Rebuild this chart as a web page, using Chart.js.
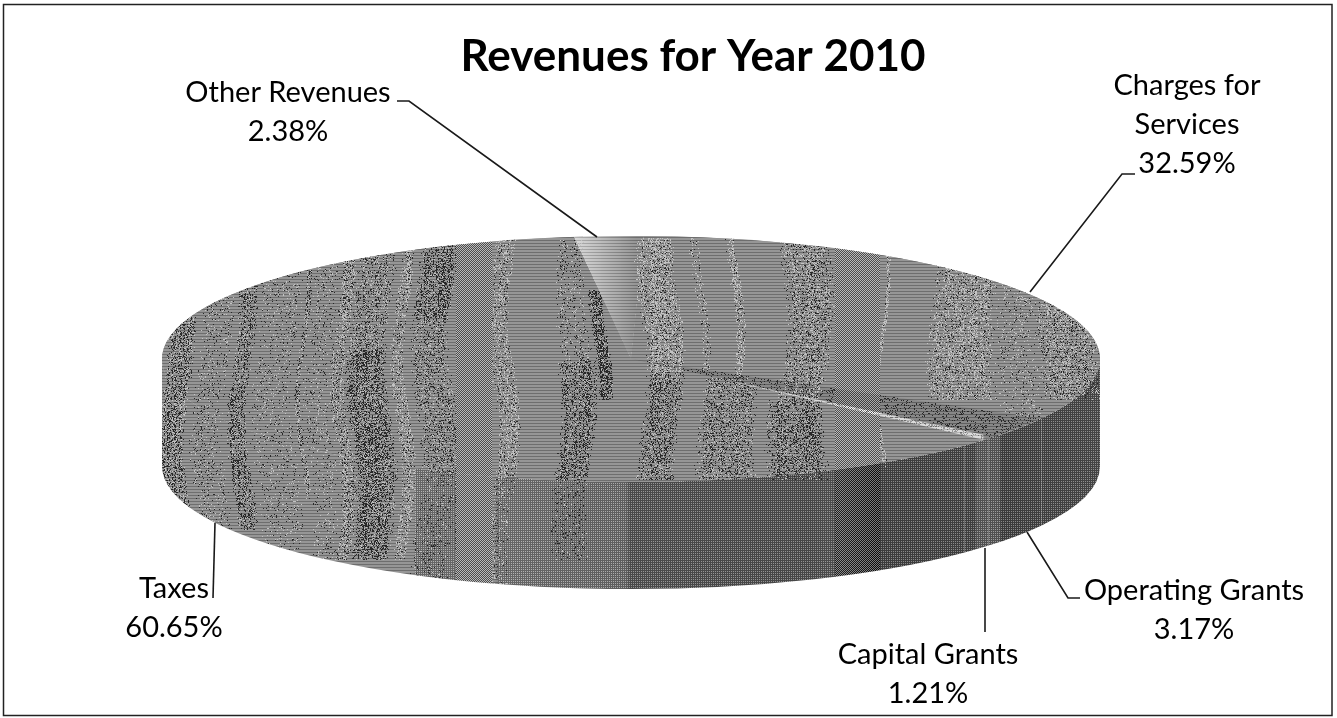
<!DOCTYPE html>
<html>
<head>
<meta charset="utf-8">
<title>Revenues for Year 2010</title>
<script src="https://cdn.jsdelivr.net/npm/chart.js@4/dist/chart.umd.min.js"></script>
<style>
  html, body { margin: 0; padding: 0; background: #fff; }
  canvas { display: block; }
</style>
</head>
<body>
<canvas id="revenue-pie" width="1337" height="718"></canvas>
<script>
// data, clockwise from the top of the pie
const categories = ['Other Revenues', 'Charges for Services', 'Operating Grants', 'Capital Grants', 'Taxes'];
const shares = [2.38, 32.59, 3.17, 1.21, 60.65];
const chartTitle = 'Revenues for Year 2010';

// top face shades, same order as categories
const topShades = ['#bcbcbc', '#8a8a8a', '#7c7c7c', '#8a8a8a', '#8a8a8a'];

// the tilted pie: where it sits on the page
const PIE_X = 631;
const PIE_Y = 359;
const RADIUS_X = 469;
const RADIUS_Y = 123;
const WALL = 107;

// side wall shade from left to right [x, grey]
const wallStops = [
  [162, 138], [414, 138], [416, 116], [455, 116], [456, 138], [492, 138], [500, 116],
  [626, 108], [630, 88], [808, 84], [840, 92], [877, 74], [975, 76], [976, 94],
  [1000, 94], [1001, 72], [1102, 82]
];

// vertical scan streaks [from x, to x, dark specks, light specks, from y, to y]
const streaks = [
  [162, 190, 0.26, 0.14, 230, 600], [195, 228, 0.07, 0.06, 270, 540], [232, 252, 0.26, 0.08, 280, 530],
  [255, 298, 0.06, 0.05, 250, 550], [300, 306, 0.16, 0.14, 270, 500], [307, 334, 0.05, 0.05, 250, 560],
  [335, 350, 0.12, 0.20, 260, 560], [350, 392, 0.14, 0.10, 245, 350], [350, 392, 0.32, 0.08, 350, 560],
  [395, 410, 0.08, 0.22, 240, 560], [415, 455, 0.30, 0.08, 240, 320], [415, 455, 0.14, 0.08, 320, 470],
  [415, 455, 0.20, 0.06, 470, 590], [492, 515, 0.08, 0.20, 238, 590], [560, 590, 0.08, 0.05, 240, 360],
  [555, 592, 0.26, 0.06, 360, 560], [593, 607, 0.38, 0.06, 290, 400], [640, 680, 0.08, 0.26, 238, 372],
  [640, 680, 0.22, 0.08, 372, 480], [695, 705, 0.05, 0.14, 238, 372], [700, 760, 0.18, 0.10, 378, 480],
  [730, 740, 0.06, 0.26, 238, 378], [780, 830, 0.14, 0.16, 240, 400], [770, 830, 0.28, 0.08, 400, 480],
  [880, 885, 0.05, 0.30, 240, 470], [930, 1000, 0.08, 0.20, 262, 400], [1000, 1040, 0.05, 0.08, 280, 420],
  [1040, 1100, 0.12, 0.18, 300, 400]
];
// columns that scanned as an even checkerboard
const checkerBands = [[456, 491], [835, 879]];

// label text and leader lines, one entry per category
const labelLayout = [
  { lines: ['Other Revenues'], x: 288, y: 102, leader: [[397, 101], [409, 101], [597, 237]] },
  { lines: ['Charges for', 'Services'], x: 1187, y: 95, leader: [[1135, 174], [1122, 174], [1030, 292]] },
  { lines: ['Operating Grants'], x: 1194, y: 600, leader: [[1080, 598], [1068, 598], [1027, 532]] },
  { lines: ['Capital Grants'], x: 928, y: 664, leader: [[985, 632], [985, 548]] },
  { lines: ['Taxes'], x: 174, y: 598, leader: [[213, 598], [215, 523]] }
];
const LABEL_LINE = 39;

// repeatable pixel noise for the speckle
function speck(x, y) {
  let h = Math.imul(x, 374761393) + Math.imul(y, 668265263);
  h = Math.imul(h ^ (h >>> 13), 1274126177);
  return ((h ^ (h >>> 16)) >>> 0) / 4294967296;
}

const tiltedPie = {
  id: 'tiltedPie',
  beforeDatasetsDraw(chart) {
    const ctx = chart.ctx;
    const arcs = chart.getDatasetMeta(0).data;

    // side wall, only the slices facing the viewer
    const wallFill = ctx.createLinearGradient(162, 0, 1102, 0);
    wallStops.forEach(([x, g]) => wallFill.addColorStop((x - 162) / 940, `rgb(${g},${g},${g})`));
    ctx.save();
    ctx.fillStyle = wallFill;
    arcs.forEach(arc => {
      const from = Math.max(arc.startAngle, 0);
      const to = Math.min(arc.endAngle, Math.PI);
      if (to <= from) return;
      ctx.beginPath();
      ctx.ellipse(PIE_X, PIE_Y, RADIUS_X, RADIUS_Y, 0, from, to);
      ctx.ellipse(PIE_X, PIE_Y + WALL, RADIUS_X, RADIUS_Y, 0, to, from, true);
      ctx.closePath();
      ctx.fill();
    });
    ctx.fillStyle = topShades[1];
    ctx.beginPath();
    ctx.ellipse(PIE_X, PIE_Y, RADIUS_X, RADIUS_Y, 0, 0, Math.PI * 2);
    ctx.fill();
    ctx.restore();

    // squash the library's round pie into the tilted top face
    ctx.save();
    ctx.translate(PIE_X, PIE_Y);
    ctx.scale(1, RADIUS_Y / RADIUS_X);
    ctx.translate(-arcs[0].x, -arcs[0].y);
  },
  afterDatasetsDraw(chart) {
    const ctx = chart.ctx;
    ctx.restore();

    // bright bevel along the lower edge of the operating grants slice, widening outwards
    const edge = chart.getDatasetMeta(0).data[2].endAngle;
    const edgeX = Math.cos(edge) * RADIUS_X;
    const edgeY = Math.sin(edge) * RADIUS_Y;
    ctx.save();
    ctx.fillStyle = '#cfcfcf';
    ctx.beginPath();
    ctx.moveTo(PIE_X + edgeX * 0.25, PIE_Y + edgeY * 0.25);
    ctx.lineTo(PIE_X + edgeX * 0.985, PIE_Y + edgeY * 0.985 - 2.5);
    ctx.lineTo(PIE_X + edgeX * 0.985, PIE_Y + edgeY * 0.985 + 2.5);
    ctx.closePath();
    ctx.fill();
    ctx.restore();

    halftone(ctx);
  },
  afterDraw(chart) {
    const ctx = chart.ctx;
    ctx.save();

    // page frame
    ctx.strokeStyle = '#222';
    ctx.lineWidth = 1.5;
    ctx.strokeRect(3.5, 4.5, 1328.5, 711);

    // leader lines
    ctx.strokeStyle = '#1a1a1a';
    ctx.lineWidth = 1.6;
    labelLayout.forEach(item => {
      ctx.beginPath();
      item.leader.forEach(([x, y], i) => (i ? ctx.lineTo(x, y) : ctx.moveTo(x, y)));
      ctx.stroke();
    });

    // category name and share
    ctx.fillStyle = '#000';
    ctx.font = '29px Lato';
    ctx.textAlign = 'center';
    ctx.textBaseline = 'alphabetic';
    labelLayout.forEach((item, i) => {
      const rows = item.lines.concat(shares[i].toFixed(2) + '%');
      rows.forEach((text, r) => ctx.fillText(text, item.x, item.y + r * LABEL_LINE));
    });
    ctx.restore();
  }
};

// turn the flat greys into the coarse scanned halftone
function halftone(ctx) {
  const left = 155, top = 230, w = 955, h = 375;
  const img = ctx.getImageData(left, top, w, h);
  const px = img.data;
  for (let row = 0; row < h; row++) {
    const y = top + row;
    for (let col = 0; col < w; col++) {
      const i = (row * w + col) * 4;
      if (px[i + 3] === 0) continue;
      const x = left + col;
      let g = px[i];
      const pale = g > 160;
      // the pale wedge fades into the slice next to it, the bevel breaks up
      if (pale && x < 650) g = Math.max(138, 205 - (x - 575) * 1.1);
      else if (pale && speck(x, y) < 0.3) g = 138;
      const checker = checkerBands.some(b => x >= b[0] && x <= b[1]);
      let v;
      if (checker) {
        v = (x + y) % 2 ? g - 62 : g + 48;
      } else if (g < 122) {
        v = (x % 2 && y % 2) ? g + 62 : g - 14;
      } else {
        v = y % 3 === 0 ? g - 28 : g + 12;
      }
      if (!checker) {
        // streak edges fade out and wander a little with the height
        const wobble = Math.round(6 * Math.sin(y / 37 + x / 90));
        const band = streaks.find(s => x + wobble >= s[0] && x + wobble < s[1] && y >= s[4] && y < s[5]);
        if (band) {
          const inside = Math.min(x + wobble - band[0], band[1] - x - wobble) / ((band[1] - band[0]) / 2);
          let weight = Math.min(1, inside * 2.5 + 0.15) * (0.5 + speck(x, 7));
          if (g < 122) weight *= 0.35;       // the dark wall hides most of the specks
          const dark = pale ? 0 : band[2];    // the pale wedge only picks up light ones
          const r = speck(x, y);
          if (r < dark * weight) v = 40;
          else if (r < (dark + band[3]) * weight) v = 195;
        }
        // dark shadow inside the operating grants slice
        if (g >= 122 && g < 128 && speck(x, y) < 0.16) v = 40;
      }
      px[i] = px[i + 1] = px[i + 2] = Math.max(0, Math.min(255, v));
    }
  }
  ctx.putImageData(img, left, top);
}

new Chart(document.getElementById('revenue-pie'), {
  type: 'pie',
  data: {
    labels: categories,
    datasets: [{
      data: shares,
      backgroundColor: topShades,
      borderWidth: 0,
      clip: false
    }]
  },
  options: {
    responsive: false,
    animation: false,
    devicePixelRatio: 1,
    rotation: -7,
    radius: RADIUS_X,
    layout: { padding: { left: 49 } },
    plugins: {
      legend: { display: false },
      tooltip: { enabled: false },
      title: {
        display: true,
        text: chartTitle,
        color: '#000',
        fullSize: false,
        font: { family: 'Lato', size: 44, weight: 'bold' },
        padding: { top: 30, bottom: 0 }
      }
    }
  },
  plugins: [tiltedPie]
});
</script>
</body>
</html>
